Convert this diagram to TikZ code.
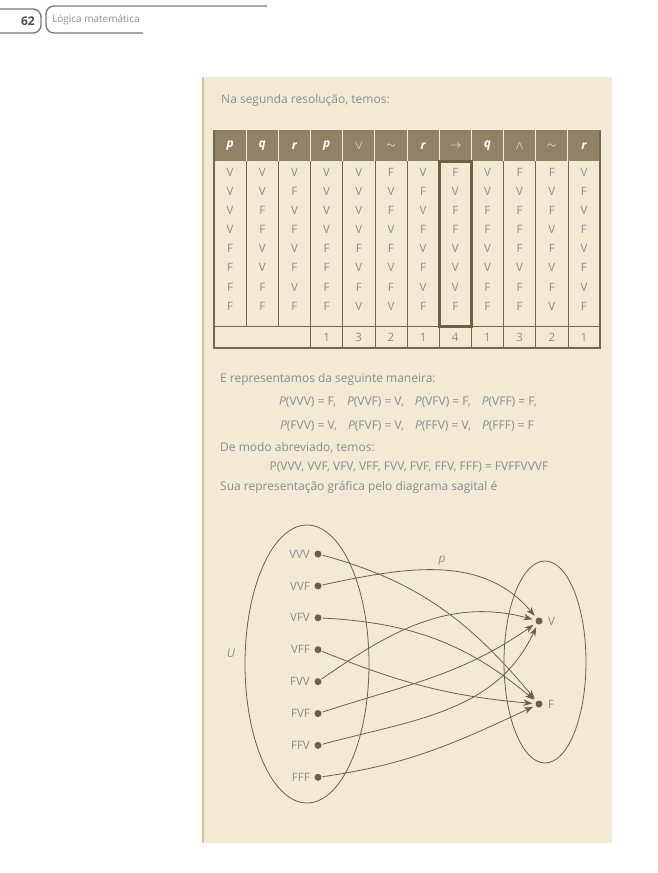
\documentclass[tikz,border=0pt]{standalone}
\usepackage{fontspec}
\setmainfont{Open Sans}
\usetikzlibrary{arrows.meta}
\definecolor{panel}{HTML}{F3EAD6}
\definecolor{panedge}{HTML}{D8C58E}
\definecolor{hdrfill}{HTML}{8F8266}
\definecolor{rule}{HTML}{76694B}
\definecolor{txtgray}{HTML}{8C8C8C}
\definecolor{ink}{HTML}{6B6143}
\definecolor{hdrline}{HTML}{7A7A7A}
\tikzset{
  txt/.style={inner sep=0pt, text=txtgray, font=\fontsize{12}{14}\selectfont},
  val/.style={inner sep=0pt, text=txtgray, font=\fontsize{11.5}{13}\selectfont},
  hval/.style={inner sep=0pt, text=white, font=\fontsize{12}{14}\selectfont},
  dot/.style={circle, fill=ink, inner sep=0pt, minimum size=7pt},
  lab/.style={inner sep=0pt, text=txtgray, font=\fontsize{11.5}{13}\selectfont},
  arr/.style={draw=ink, line width=0.8pt, -{Stealth[length=9pt,width=6.5pt]}, shorten >=3pt, shorten <=1pt},
  setline/.style={draw=ink, line width=0.8pt},
  hdrbox/.style={draw=hdrline, line width=1.4pt, rounded corners=8pt},
}
\begin{document}
\begin{tikzpicture}[x=1pt,y=-1pt]
\useasboundingbox (0,0) rectangle (658,873);
% page header
\draw[hdrbox] (-12,9) rectangle (41,33);
\draw[hdrbox] (143,33) -- (46,33) -- (46,6) -- (267,6);
\node[anchor=east, inner sep=0pt, text=black!70, font=\fontsize{12}{14}\bfseries] (pg) at (35,21) {62};
\node[anchor=west, inner sep=0pt, text=txtgray, font=\fontsize{10}{12}\selectfont] (ttl) at (52,20) {Lógica matemática};
% panel
\fill[panel] (203,77) rectangle (611,843);
\draw[panedge, line width=1.5pt] (203,77) -- (203,843);
\draw[panel!85!black!40, line width=0.4pt] (611,77) -- (611,843);
% text
\node[txt, anchor=west] (t1) at (221,100) {Na segunda resolução, temos:};
% table
\def\cw{32.17}
\fill[hdrfill] (214,130) rectangle (600,161);
\foreach \k in {1,...,11} \draw[panel, line width=0.8pt] ({214+\k*\cw},130) -- ({214+\k*\cw},161);
\foreach \k in {3,...,11} \draw[rule, line width=0.7pt] ({214+\k*\cw},161) -- ({214+\k*\cw},348);
\foreach \k in {1,2} \draw[rule, line width=0.7pt] ({214+\k*\cw},161) -- ({214+\k*\cw},326);
\draw[rule, line width=0.7pt] (214,326) -- (600,326);
\draw[rule, line width=1.4pt] (214,130) -- (214,348) -- (600,348) -- (600,130);
\draw[ink, line width=3pt] ({214+7*\cw},161) rectangle ({214+8*\cw},326);
\foreach \h [count=\j] in {{\bfseries\itshape p},{\bfseries\itshape q},{\bfseries\itshape r},{\bfseries\itshape p},$\vee$,$\sim$,{\bfseries\itshape r},$\rightarrow$,{\bfseries\itshape q},$\wedge$,$\sim$,{\bfseries\itshape r}}
  \node[hval] (h\j) at ({214+(\j-0.5)*\cw},146) {\h};
\foreach \row [count=\i] in {
  {V,V,V,V,V,F,V,F,V,F,F,V},
  {V,V,F,V,V,V,F,V,V,V,V,F},
  {V,F,V,V,V,F,V,F,F,F,F,V},
  {V,F,F,V,V,V,F,F,F,F,V,F},
  {F,V,V,F,F,F,V,V,V,F,F,V},
  {F,V,F,F,V,V,F,V,V,V,V,F},
  {F,F,V,F,F,F,V,V,F,F,F,V},
  {F,F,F,F,V,V,F,F,F,F,V,F}}
  \foreach \v [count=\j] in \row
    \node[val] (c\i-\j) at ({214+(\j-0.5)*\cw},{172.3+(\i-1)*19.1}) {\v};
\foreach \n [count=\j from 4] in {1,3,2,1,4,1,3,2,1}
  \node[val] (f\j) at ({214+(\j-0.5)*\cw},337) {\n};
% texts
\node[txt, anchor=west] (t2) at (220,379) {E representamos da seguinte maneira:};
\node[txt] (t3) at (408,402) {\textit{P}(VVV) = F,\hspace{11pt}\textit{P}(VVF) = V,\hspace{11pt}\textit{P}(VFV) = F,\hspace{11pt}\textit{P}(VFF) = F,};
\node[txt] (t4) at (407,426) {\textit{P}(FVV) = V,\hspace{11pt}\textit{P}(FVF) = V,\hspace{11pt}\textit{P}(FFV) = V,\hspace{11pt}\textit{P}(FFF) = F};
\node[txt, anchor=west] (t5) at (220,448) {De modo abreviado, temos:};
\node[txt] (t6) at (409,467) {P(VVV, VVF, VFV, VFF, FVV, FVF, FFV, FFF) = FVFFVVVF};
\node[txt, anchor=west] (t7) at (220,487) {Sua representação gráfica pelo diagrama sagital é};
% diagram
\draw[setline] (307,664) ellipse [x radius=62, y radius=139];
\draw[setline] (545,662) ellipse [x radius=41, y radius=101];
\node[lab, font=\fontsize{12}{14}\itshape] (U) at (231,653) {U};
\node[lab, font=\fontsize{12}{14}\itshape] (p) at (442,561) {p};
\foreach \nm/\t [count=\i] in {vvv/VVV,vvf/VVF,vfv/VFV,vff/VFF,fvv/FVV,fvf/FVF,ffv/FFV,fff/FFF} {
  \node[dot] (\nm) at (318,{554+(\i-1)*31.9}) {};
  \node[lab, anchor=east] (l\nm) at (310,{554+(\i-1)*31.9}) {\t};
}
\node[dot] (V) at (539,621) {};
\node[dot] (F) at (539,704) {};
\node[lab, anchor=west] (lV) at (548,621) {V};
\node[lab, anchor=west] (lF) at (548,704) {F};
\draw[arr] (vvv) to[out=-15,in=130] (F);
\draw[arr] (vvf) to[out=12,in=130] (V);
\draw[arr] (vfv) to[out=-3,in=140] (F);
\draw[arr] (vff) to[out=-22,in=175] (F);
\draw[arr] (fvv) to[out=35,in=165] (V);
\draw[arr] (fvf) to[out=18,in=-145] (V);
\draw[arr] (ffv) to[out=15,in=-115] (V);
\draw[arr] (fff) to[out=8,in=-155] (F);
\end{tikzpicture}
\end{document}
